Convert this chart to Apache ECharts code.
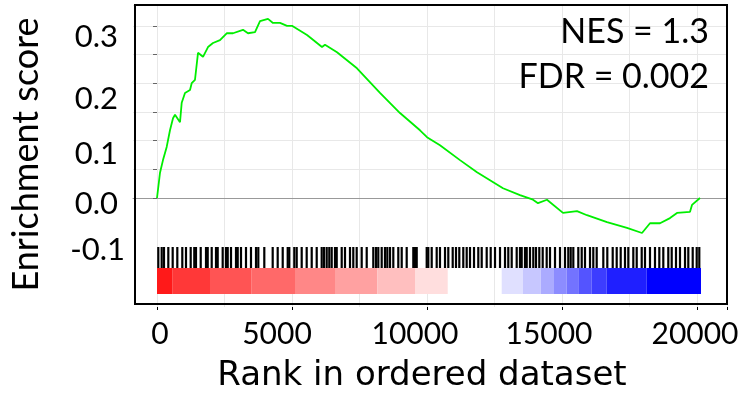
<!DOCTYPE html>
<html><head><meta charset="utf-8">
<script src="https://cdn.jsdelivr.net/npm/echarts@6/dist/echarts.min.js"></script>
<style>html,body{margin:0;padding:0;background:#fff}#c{width:746px;height:398px}</style>
</head><body><div id="c"></div>
<script>
// ---- data ----
const esRank  = [0,111,222,359,481,593,667,852,915,1037,1222,1285,1407,1519,1704,1889,2074,2333,2581,2815,3185,3370,3630,3815,4111,4296,4556,4815,5000,5556,6111,6222,6667,7407,8259,9000,9741,10000,10481,11222,11852,12333,12815,13444,13926,14111,14444,15037,15556,15926,16667,17407,17963,18259,18630,19000,19259,19741,19815,20111];
const esScore = [0,0.044,0.066,0.089,0.118,0.139,0.145,0.132,0.166,0.183,0.188,0.200,0.206,0.253,0.246,0.263,0.270,0.275,0.287,0.287,0.293,0.287,0.289,0.308,0.312,0.305,0.305,0.300,0.300,0.284,0.263,0.267,0.254,0.226,0.183,0.148,0.118,0.106,0.092,0.066,0.045,0.031,0.017,0.005,-0.003,-0.009,-0.003,-0.026,-0.023,-0.030,-0.042,-0.052,-0.061,-0.044,-0.044,-0.035,-0.026,-0.024,-0.012,0];
const hitRanks = [48,174,259,419,581,752,937,1074,1248,1381,1444,1619,1815,1878,2026,2185,2248,2433,2556,2619,2741,2926,2989,3111,3296,3481,3667,3752,3974,4285,4470,4656,4841,4900,5085,5174,
  5359,5544,5730,5915,6100,6185,6285,6381,6470,6593,6656,6841,6963,7148,7270,7396,7581,7767,8011,8111,8196,8322,8444,8530,8630,8752,8937,9063,9248,9493,9556,9619,9989,10048,10174,10359,10481,10667,10789,
  10952,11074,11196,11344,11470,11593,11741,11900,12026,12211,12359,12519,12704,12889,13011,13137,13322,13444,13507,13630,13693,13815,13937,14037,14159,14285,14433,14556,14741,14926,15111,15233,15322,15419,15604,15730,15852,16037,16159,16285,
  16530,16678,16878,17026,17174,17333,17456,17641,17767,17952,18074,18259,18444,18604,18752,18937,19063,19222,19370,19556,19678,19841,19989,20085];
const heatStart = [0,581,1963,3507,5111,6593,8159,9556,12767,13544,14211,14704,15174,15604,16100,16656,18137];
const heatEnd   = [581,1963,3507,5111,6593,8159,9556,10767,13544,14211,14704,15174,15604,16100,16656,18137,20148];
const heatLevel = [0.90,0.78,0.67,0.59,0.47,0.37,0.25,0.13,-0.12,-0.22,-0.33,-0.45,-0.55,-0.67,-0.76,-0.88,-1.0];
const xTickLabels = [0,5000,10000,15000,20000];
const yTickLabels = [-0.1,0,0.1,0.2,0.3];
const statLines = ['NES = 1.3','FDR = 0.002'];
const xTitle = 'Rank in ordered dataset';
const yTitle = 'Enrichment score';

// ---- layout ----
const FONT = 'Lato';
const W = 746, H = 398;
const FL = 133, FR = 727, FT = 5, FB = 307;   // frame
const X0 = 157, PXR = 0.027;                   // x of rank 0, px per rank
const Y0 = 198, PXU = 574;                     // y of ES 0, px per unit
const XMAX = (FR - X0) / PXR;
const XMIN_FULL = -(X0 - FL) / PXR;
const YMAX = (Y0 - FT) / PXU;
const LAB_TOP = 36.7, LAB_BOT = 250;           // y of the 0.3 and -0.1 labels
const yLabShift = {'0.2': 9, '0.1': 11, '0.0': 7}; // label offsets seen in the picture
const xLabShift = {0: 3, 5000: -15, 10000: -12, 15000: -13, 20000: -2};
const HIT_TOP = (FB - 247) / (FB - FT), HIT_BOT = (FB - 268) / (FB - FT);
const HEAT_TOP = HIT_BOT, HEAT_BOT = (FB - 294) / (FB - FT);

function heatColor(l) {
  const c = Math.round(255 * (1 - Math.abs(l)));
  return l >= 0 ? `rgb(255,${c},${c})` : `rgb(${c},${c},255)`;
}

const rich = {};
function yRichKey(s) { return 'y' + s.replace(/[-.]/g, '_'); }
yTickLabels.forEach(t => {
  const s = t.toFixed(1), d = yLabShift[s] || 0;
  rich[yRichKey(s)] = {fontSize: 31, fontFamily: FONT, color: '#000',
    padding: [d > 0 ? 2 * d : 0, t < 0 ? 0 : 7, d < 0 ? -2 * d : 0, 0]};
});
xTickLabels.forEach(t => {
  const d = xLabShift[t] || 0;
  rich['x' + t] = {fontSize: 30, fontFamily: FONT, color: '#000',
    padding: [0, d < 0 ? -2 * d : 0, 0, d > 0 ? 2 * d : 0]};
});

const chart = echarts.init(document.getElementById('c'), null, {renderer: 'canvas'});
const txt = {color: '#000', fontFamily: FONT};
chart.setOption({
  animation: false,
  grid: [
    {left: FL, right: W - FR, top: FT, bottom: H - FB, show: true, borderColor: '#000', borderWidth: 2, backgroundColor: 'transparent', z: 5}, // 0 frame
    {left: X0, right: W - FR, top: FT, bottom: H - FB},                 // 1 vertical grid + hits/heat
    {left: FL, right: W - FR, top: FT, bottom: H - Y0},                 // 2 ES
    {left: X0, right: W - FR, top: FT, bottom: H - FB},                 // 3 x labels/ticks
    {left: FL, right: W - FR, top: LAB_TOP, bottom: H - LAB_BOT}        // 4 y labels
  ],
  xAxis: [
    {gridIndex: 0, type: 'value', min: 0, max: 1, axisLine: {show: false}, axisTick: {show: false}, axisLabel: {show: false}, splitLine: {show: false},
     name: xTitle, nameLocation: 'middle', nameGap: 55,
     nameTextStyle: {color: '#000', fontFamily: 'DejaVu Sans', fontSize: 34, padding: [0, 18, 0, 0]}},
    {gridIndex: 1, type: 'value', min: 0, max: XMAX, interval: 2500, axisLine: {show: false}, axisTick: {show: false}, axisLabel: {show: false},
     splitLine: {show: true, lineStyle: {color: '#e8e8e8', width: 1}}},
    {gridIndex: 2, type: 'value', min: XMIN_FULL, max: XMAX, axisLine: {show: true, lineStyle: {color: '#999', width: 1}}, axisTick: {show: false}, axisLabel: {show: false}, splitLine: {show: false}},
    {gridIndex: 3, type: 'value', min: 0, max: XMAX, interval: 5000, axisLine: {show: false},
     axisTick: {show: true, length: 3, lineStyle: {color: '#000'}},
     axisLabel: {show: true, margin: 12, rich: rich,
       formatter: v => xTickLabels.includes(v) ? `{x${v}|${v}}` : ''},
     splitLine: {show: false}},
    {gridIndex: 4, type: 'value', min: 0, max: 1, show: false}
  ],
  yAxis: [
    {gridIndex: 0, type: 'value', min: 0, max: 1, axisLine: {show: false}, axisTick: {show: false}, axisLabel: {show: false}, splitLine: {show: false},
     name: yTitle, nameLocation: 'middle', nameGap: 91, nameRotate: 90, nameTextStyle: {...txt, fontSize: 36, padding: [0, 0, 0, 0]}},
    {gridIndex: 1, type: 'value', min: 0, max: 1, show: false},
    {gridIndex: 2, type: 'value', min: 0, max: YMAX, interval: 0.05, axisLine: {show: false},
     axisTick: {show: true, length: 4, lineStyle: {color: '#666'}}, axisLabel: {show: false},
     splitLine: {show: true, lineStyle: {color: '#e8e8e8', width: 1}}},
    {gridIndex: 3, type: 'value', min: 0, max: 1, show: false},
    {gridIndex: 4, type: 'value', min: -0.1, max: 0.3, interval: 0.1, axisLine: {show: false}, axisTick: {show: false}, splitLine: {show: false},
     axisLabel: {show: true, margin: 8, rich: rich,
       formatter: v => { const s = (Math.round(v * 10) / 10).toFixed(1); return `{${yRichKey(s)}|${s}}`; }}}
  ],
  title: [
    {text: statLines[0], right: W - 709, top: 15, padding: 0, textStyle: {...txt, fontSize: 34, fontWeight: 'normal'}},
    {text: statLines[1], right: W - 709, top: 60, padding: 0, textStyle: {...txt, fontSize: 34, fontWeight: 'normal'}}
  ],
  series: [
    {type: 'custom', xAxisIndex: 1, yAxisIndex: 1, data: heatStart.map((s, i) => [s, heatEnd[i], heatLevel[i]]),
     renderItem: (p, api) => {
       const a = api.coord([api.value(0), HEAT_TOP]), b = api.coord([api.value(1), HEAT_BOT]);
       return {type: 'rect', shape: {x: a[0], y: a[1], width: b[0] - a[0], height: b[1] - a[1]}, style: {fill: heatColor(api.value(2))}};
     }},
    {type: 'custom', xAxisIndex: 1, yAxisIndex: 1, data: hitRanks.map(r => [r]),
     renderItem: (p, api) => {
       const a = api.coord([api.value(0), HIT_TOP]), b = api.coord([api.value(0), HIT_BOT]);
       return {type: 'line', shape: {x1: a[0], y1: a[1], x2: a[0], y2: b[1]}, style: {stroke: '#000', lineWidth: 2.2}};
     }},
    {type: 'line', xAxisIndex: 2, yAxisIndex: 2, data: esRank.map((r, i) => [r, esScore[i]]), showSymbol: false, clip: false,
     lineStyle: {color: '#00ee00', width: 1.8}, z: 3}
  ]
});
</script></body></html>
